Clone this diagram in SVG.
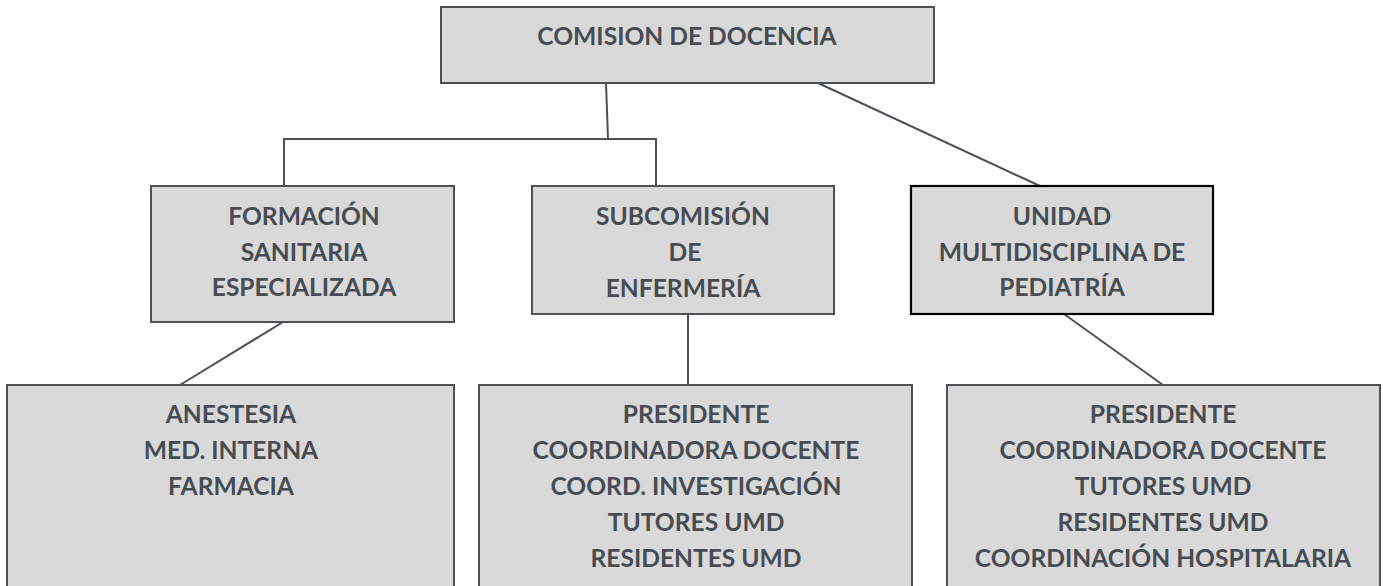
<svg xmlns="http://www.w3.org/2000/svg" width="1383" height="586" viewBox="0 0 1383 586">
<style>
.box{fill:#d9d9d9;stroke:#4d5156;stroke-width:2}
.dark{fill:#d9d9d9;stroke:#000;stroke-width:2.2}
.t{font-family:Lato,"Liberation Sans",sans-serif;font-weight:bold;font-size:24.6px;fill:#474c52;text-anchor:middle}
.c{fill:none;stroke:#4d5156;stroke-width:2}
</style>
<rect width="1383" height="586" fill="#fff"/>
<g id="connectors">
<polyline class="c" points="606,83 608,139"/>
<polyline class="c" points="284,186 284,139 656,139 656,186"/>
<line class="c" x1="818" y1="83" x2="1040" y2="186"/>
<line class="c" x1="283" y1="322" x2="180" y2="385"/>
<line class="c" x1="688" y1="314" x2="688" y2="385"/>
<line class="c" x1="1064" y1="314" x2="1163" y2="385"/>
</g>
<g id="comision">
<rect class="box" x="441" y="7" width="493" height="76"/>
<text class="t" x="687" y="45">COMISION DE DOCENCIA</text>
</g>
<g id="formacion">
<rect class="box" x="151" y="186" width="303" height="136"/>
<text class="t" x="304" y="225">FORMACIÓN</text>
<text class="t" x="304" y="261">SANITARIA</text>
<text class="t" x="304" y="296">ESPECIALIZADA</text>
</g>
<g id="subcomision">
<rect class="box" x="532" y="186" width="302" height="128"/>
<text class="t" x="683" y="225">SUBCOMISIÓN</text>
<text class="t" x="685" y="261">DE</text>
<text class="t" x="683" y="297">ENFERMERÍA</text>
</g>
<g id="unidad">
<rect class="dark" x="911" y="186" width="302" height="128"/>
<text class="t" x="1062" y="225">UNIDAD</text>
<text class="t" x="1062" y="261">MULTIDISCIPLINA DE</text>
<text class="t" x="1062" y="296">PEDIATRÍA</text>
</g>
<g id="especialidades">
<rect class="box" x="7" y="385" width="447" height="220"/>
<text class="t" x="231" y="423">ANESTESIA</text>
<text class="t" x="231" y="459">MED. INTERNA</text>
<text class="t" x="231" y="495">FARMACIA</text>
</g>
<g id="miembros-enfermeria">
<rect class="box" x="479" y="385" width="433" height="220"/>
<text class="t" x="696" y="423">PRESIDENTE</text>
<text class="t" x="696" y="459">COORDINADORA DOCENTE</text>
<text class="t" x="696" y="495">COORD. INVESTIGACIÓN</text>
<text class="t" x="696" y="531">TUTORES UMD</text>
<text class="t" x="696" y="567">RESIDENTES UMD</text>
</g>
<g id="miembros-pediatria">
<rect class="box" x="947" y="385" width="433" height="220"/>
<text class="t" x="1163" y="423">PRESIDENTE</text>
<text class="t" x="1163" y="459">COORDINADORA DOCENTE</text>
<text class="t" x="1163" y="495">TUTORES UMD</text>
<text class="t" x="1163" y="531">RESIDENTES UMD</text>
<text class="t" x="1163" y="567">COORDINACIÓN HOSPITALARIA</text>
</g>
</svg>
